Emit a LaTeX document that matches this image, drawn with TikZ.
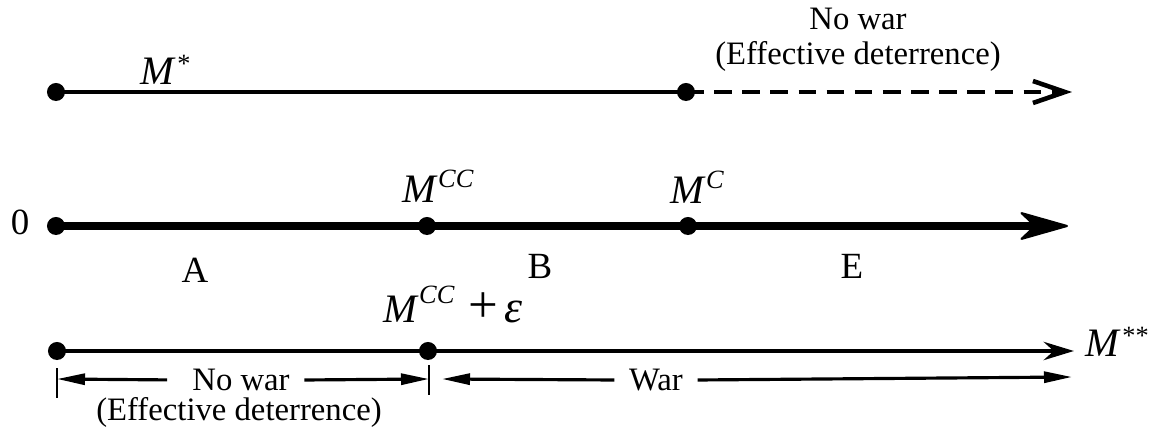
\documentclass[tikz,border=0pt]{standalone}
\usepackage{fontspec}
\setmainfont{Liberation Serif}
\usetikzlibrary{arrows.meta,positioning}
\newcommand{\msup}[3][4.5pt]{\textit{#2}\raisebox{#1}{\fontsize{7.5}{8}\selectfont\textit{#3}}}

\begin{document}
\begin{tikzpicture}[x=0.01cm,y=0.01cm,
  dot/.style={circle,fill=black,inner sep=0pt,minimum size=0.18cm},
  txt/.style={font=\fontsize{9.3}{9.8}\selectfont,inner sep=4pt},
  mlbl/.style={font=\fontsize{11.5}{12}\selectfont,anchor=base west,inner sep=0pt},
  seg/.style={font=\fontsize{10.5}{11}\selectfont},
  dimarr/.style={line width=0.9pt,-{Triangle[length=2.8mm,width=1.1mm]}}]
\useasboundingbox (0,0) rectangle (1150,430);

% Top line: M*
\node[dot] (p0) at (56,338) {};
\node[dot] (pc) at (686,338) {};
\coordinate (pend) at (1072,338);
\draw[line width=1.1pt] (p0.center) -- (pc.center);
\draw[line width=1.3pt,dash pattern=on 5pt off 3pt,-{Straight Barb[length=3.2mm,width=2.2mm]}] (pc.center) -- (pend);
\node[mlbl] (mstar) at (140,345) {\msup[3.5pt]{M}{*}};
\node[txt,align=center] (nowar1) at (858,390) {No war\\(Effective deterrence)};

% Middle axis
\node[font=\fontsize{10.5}{11}\selectfont] (zero) at (20,208) {0};
\node[dot] (o) at (56,204) {};
\node[dot] (mcc) at (427,204) {};
\node[dot] (mc) at (688,204) {};
\coordinate (axend) at (1068,204);
\draw[line width=2.3pt,-{Stealth[length=5.3mm,width=3mm,inset=1.6mm,round,line width=0.6pt]}] (o.center) -- (mcc.center) -- (mc.center) -- (axend);
\node[mlbl] (lmcc) at (402,227) {\msup{M}{CC}};
\node[mlbl] (lmc) at (670,226) {\msup{M}{C}};
\node[seg] (A) at (195,160) {A};
\node[seg] (B) at (540,164) {B};
\node[seg] (E) at (852,164) {E};

% Bottom line: M**
\node[dot] (q0) at (57,79) {};
\node[dot] (qe) at (428,79) {};
\coordinate (qend) at (1074,79);
\draw[line width=1.4pt,-{Stealth[length=3mm,width=1.8mm]}] (q0.center) -- (qe.center) -- (qend);
\node[mlbl] (lmcce) at (383,107) {\msup[5.5pt]{M}{CC}\,\,{\fontsize{15}{15}\selectfont +}\,{\fontsize{13}{13}\selectfont\textit{ε}}};
\node[mlbl] (mss) at (1085,73) {\msup[3.5pt]{M}{**}};

% Regions
\coordinate (tl) at (57,51);
\coordinate (tr) at (429,51);
\coordinate (wl) at (442,51);
\coordinate (wr) at (1072,53);
\draw[line width=0.85pt] (tl) ++(0,-19) -- ++(0,30);
\draw[line width=0.85pt] (tr) ++(0,-16) -- ++(0,30);
\node[txt] (nowar2) at (241,50) {No war};
\node[txt] (eff2) at (239,18) {(Effective deterrence)};
\draw[dimarr,shorten <=3pt] (nowar2.west) -- (tl);
\draw[dimarr] (nowar2.east) -- (tr);
\node[txt] (war) at (656,50) {War};
\draw[dimarr] (war.west) -- (wl);
\draw[dimarr] (war.east) -- (wr);
\end{tikzpicture}
\end{document}
